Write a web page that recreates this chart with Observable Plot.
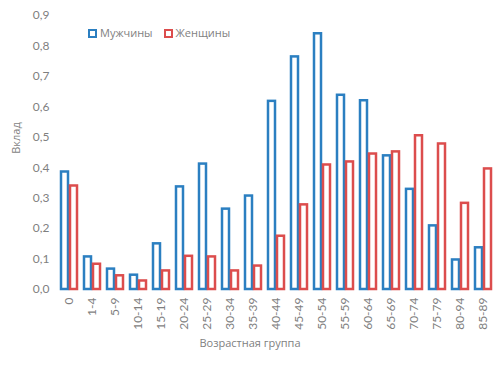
<!DOCTYPE html>
<html>
<head>
<meta charset="utf-8">
<script src="https://cdn.jsdelivr.net/npm/d3@7"></script>
<script src="https://cdn.jsdelivr.net/npm/@observablehq/plot@0.6"></script>
<style>
  html, body { margin: 0; padding: 0; background: #fff; }
  #wrap { position: relative; width: 502px; height: 365px; font-family: "Open Sans", Lato, sans-serif; color: #7f7f7f; }
  .abs { position: absolute; white-space: nowrap; font-size: 11px; }
  .sw { display: inline-block; width: 5px; height: 5px; border: 2px solid; vertical-align: -1px; margin-right: 3px; }
</style>
</head>
<body>
<div id="wrap"></div>
<script>
const groups = ["0","1-4","5-9","10-14","15-19","20-24","25-29","30-34","35-39","40-44","45-49","50-54","55-59","60-64","65-69","70-74","75-79","80-94","85-89"];
const men   = [0.386,0.107,0.067,0.047,0.150,0.337,0.412,0.264,0.307,0.618,0.764,0.840,0.638,0.620,0.439,0.329,0.209,0.097,0.137];
const women = [0.340,0.083,0.045,0.028,0.061,0.109,0.107,0.061,0.077,0.175,0.278,0.409,0.419,0.445,0.452,0.505,0.478,0.283,0.396];
const series = ["Мужчины","Женщины"];
const colors = ["#2b7fc1","#dc4d4d"];
const yTicks = [0,0.1,0.2,0.3,0.4,0.5,0.6,0.7,0.8,0.9];
const xTitle = "Возрастная группа";
const yTitle = "Вклад";

const data = groups.flatMap((g, i) => [
  {group: g, sex: series[0], value: men[i]},
  {group: g, sex: series[1], value: women[i]}
]);

const chart = Plot.plot({
  width: 502,
  height: 365,
  marginLeft: 57,
  marginRight: 7,
  marginTop: 15,
  marginBottom: 76,
  style: {fontFamily: "Lato, 'Open Sans', sans-serif", fontSize: "12px", color: "#7f7f7f", background: "white"},
  fx: {domain: groups, paddingInner: 0.217, paddingOuter: 0.11, label: null, axis: "bottom", tickRotate: -90, tickSize: 0, tickPadding: 8},
  x: {domain: series, axis: null, padding: 0},
  y: {domain: [0, 0.9], ticks: yTicks, tickFormat: d => d.toFixed(1).replace(".", ","), tickSize: 0, tickPadding: 11, label: null},
  color: {domain: series, range: colors},
  marks: [
    Plot.barY(data, {fx: "group", x: "sex", y: "value", fill: "white", stroke: "sex", strokeWidth: 2.5, insetLeft: 1, insetRight: 1})
  ]
});

const wrap = document.getElementById("wrap");
wrap.appendChild(chart);

const xt = document.createElement("div");
xt.className = "abs";
xt.textContent = xTitle;
xt.style.left = "250px"; xt.style.top = "335px"; xt.style.transform = "translateX(-50%)";
wrap.appendChild(xt);

const yt = document.createElement("div");
yt.className = "abs";
yt.textContent = yTitle;
yt.style.left = "15px"; yt.style.top = "138px"; yt.style.transform = "translate(-50%,-50%) rotate(-90deg)";
wrap.appendChild(yt);

const lg = document.createElement("div");
lg.className = "abs";
lg.style.left = "88px"; lg.style.top = "25px";
series.forEach((s, i) => {
  const item = document.createElement("span");
  item.style.marginRight = i === 0 ? "11px" : "0";
  const sw = document.createElement("span");
  sw.className = "sw";
  sw.style.borderColor = colors[i];
  item.appendChild(sw);
  item.appendChild(document.createTextNode(s));
  lg.appendChild(item);
});
wrap.appendChild(lg);
</script>
</body>
</html>
